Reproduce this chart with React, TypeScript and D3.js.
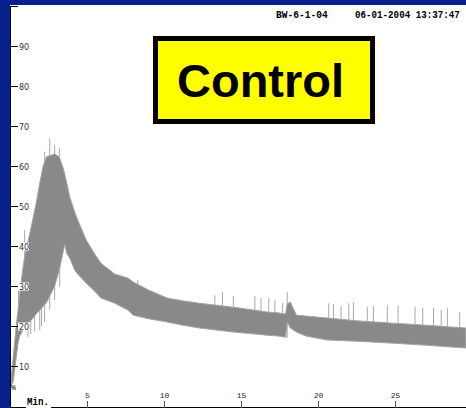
import React from "react";
import * as d3 from "d3";

// envelope of the trace (minutes, %)
const TIME = [0.08, 0.2, 0.4, 0.52, 0.63, 0.85, 0.95, 1.38, 1.7, 1.93, 2.14, 2.36, 2.9, 3.2, 3.45, 3.55, 3.7, 3.88, 4.2, 4.4, 4.95, 5.5, 5.9, 6.8, 7.65, 8.0, 9, 10.2, 11.2, 12.3, 13.4, 14.5, 15.6, 16.7, 17.4, 17.9, 18.0, 18.2, 18.6, 19.2, 20.6, 22.5, 24.9, 27, 29.6];
const UPPER = [7, 12, 19.8, 24, 28, 34.8, 37.3, 44.8, 50.7, 55.7, 59.8, 62.3, 63, 62.3, 59.5, 58, 55.5, 52.3, 48.5, 46.5, 41.5, 38, 35.7, 33, 32, 31, 29, 27, 26.3, 25.7, 25.2, 24.7, 24.1, 23.5, 23.3, 23, 25.5, 26, 22.7, 22.5, 22, 21.3, 20.7, 20.2, 19.5];
const LOWER = [5, 6, 12, 15.7, 17.5, 19, 19.8, 21.5, 23, 24, 24.8, 25.8, 30, 34, 38.5, 40.5, 38, 37, 34, 33, 30.7, 28.7, 27, 25.7, 24, 22.7, 21.8, 21, 20.2, 19.5, 19, 18.5, 18.1, 17.7, 17.5, 17.2, 21, 19.5, 18.5, 17.5, 16.5, 16.2, 15.7, 15.2, 14.5];

// single spikes above the band
const SPIKE_T = [0.55, 0.95, 1.5, 2.25, 2.58, 2.9, 3.2, 8.3, 13.3, 13.8, 14.5, 15.9, 16.3, 16.8, 17.2, 17.7, 18.0, 20.7, 21.0, 21.5, 22, 22.3, 23.2, 23.6, 24.5, 25.2, 26.3, 26.8, 27.5, 28.0, 28.4, 29.2];
const SPIKE_V = [30, 44, 47, 63.6, 67, 65.3, 64.5, 31.5, 27.7, 28.5, 27.5, 27.5, 27, 27, 26.5, 25.7, 28.5, 25.7, 25.5, 25, 25.7, 26, 24.8, 25, 25.2, 25.2, 24.8, 24.5, 24.5, 24, 24.5, 23.5];

// dips below the band on the rising part
const DIP_T = [1.17, 1.35, 1.6, 1.93, 2.05, 2.25, 2.58, 2.9, 3.23, 18.0];
const DIP_V = [17.2, 18, 18.6, 19, 20, 21, 24, 26.5, 29.8, 17];

const Y_TICKS = [10, 20, 30, 40, 50, 60, 70, 80, 90];
const X_TICKS = [5, 10, 15, 20, 25];

const W = 466;
const H = 408;
const BLUE = "#0a1f8e";

export default function App() {
  const x = d3.scaleLinear().domain([0, 30]).range([10, 472]);
  const y = d3.scaleLinear().domain([0, 100]).range([406, 6]);

  const pts = TIME.map((t, i) => ({ t, hi: UPPER[i], lo: LOWER[i] }));
  const band = d3
    .area<{ t: number; hi: number; lo: number }>()
    .x((d) => x(d.t))
    .y0((d) => y(d.lo))
    .y1((d) => y(d.hi))(pts);

  const upperAt = d3.scaleLinear().domain(TIME).range(UPPER);
  const lowerAt = d3.scaleLinear().domain(TIME).range(LOWER);

  const mono = "'Liberation Mono', 'DejaVu Sans Mono', monospace";

  return (
    <div style={{ position: "fixed", left: 0, top: 0 }}>
      <svg width={W} height={H} style={{ display: "block" }}>
        <rect x={0} y={0} width={W} height={H} fill="#ffffff" />

        {/* spikes */}
        {SPIKE_T.map((t, i) => (
          <line
            key={"s" + i}
            x1={x(t)}
            x2={x(t)}
            y1={y(SPIKE_V[i])}
            y2={y(upperAt(t))}
            stroke="#a8a8a8"
            strokeWidth={1}
          />
        ))}
        {DIP_T.map((t, i) => (
          <line
            key={"d" + i}
            x1={x(t)}
            x2={x(t)}
            y1={y(DIP_V[i])}
            y2={y(lowerAt(t))}
            stroke="#a8a8a8"
            strokeWidth={1}
          />
        ))}

        {/* trace band */}
        <path d={band ?? ""} fill="#898989" stroke="#a4a4a4" strokeWidth={1} />

        {/* y axis */}
        <line x1={10.5} x2={10.5} y1={6} y2={408} stroke="#000" />
        <line x1={10} x2={18} y1={y(100) + 0.5} y2={y(100) + 0.5} stroke="#000" />
        {Y_TICKS.map((v) => (
          <g key={"y" + v} transform={`translate(0,${y(v) + 0.5})`}>
            <line x1={10} x2={18} stroke="#000" />
            <rect x={18} y={-4} width={11} height={8} fill="#fff" />
            <text
              x={19}
              y={3}
              fontSize={8}
              fontFamily="'DejaVu Sans', sans-serif"
              fill="#333"
            >
              {v}
            </text>
          </g>
        ))}
        <text x={11} y={390} fontSize={8} fontFamily={mono} fill="#000">
          %
        </text>

        {/* x axis */}
        <line x1={10} x2={26} y1={407.5} y2={407.5} stroke="#000" />
        <line x1={51} x2={W} y1={407.5} y2={407.5} stroke="#000" />
        {X_TICKS.map((v) => (
          <g key={"x" + v} transform={`translate(${Math.round(x(v)) + 0.5},0)`}>
            <line y1={401} y2={408} stroke="#555" />
            <text
              y={398}
              textAnchor="middle"
              fontSize={8}
              fontFamily={mono}
              fill="#222"
            >
              {v}
            </text>
          </g>
        ))}
        <text
          x={27}
          y={405}
          fontSize={11}
          fontWeight="bold"
          fontFamily={mono}
          textLength={22}
          lengthAdjust="spacingAndGlyphs"
          fill="#000"
        >
          Min.
        </text>

        {/* header */}
        <g transform="translate(0,18) scale(1,1.15)">
          <text x={276} y={0} fontSize={9.6} fontWeight="bold" fontFamily={mono} fill="#000">
            BW-6-1-04
          </text>
          <text x={355} y={0} fontSize={9.2} fontWeight="bold" fontFamily={mono} fill="#000">
            06-01-2004 13:37:47
          </text>
        </g>

        {/* label box */}
        <rect x={155.5} y={38.5} width={217} height={83} fill="#ffff00" stroke="#000" strokeWidth={5} />
        <text
          x={177}
          y={97}
          fontSize={47}
          fontWeight="bold"
          fontFamily="'Liberation Sans', Arial, sans-serif"
          fill="#000"
        >
          Control
        </text>

        {/* blue frame */}
        <rect x={0} y={0} width={10} height={H} fill={BLUE} />
        <rect x={0} y={0} width={W} height={5} fill={BLUE} />
      </svg>
    </div>
  );
}
